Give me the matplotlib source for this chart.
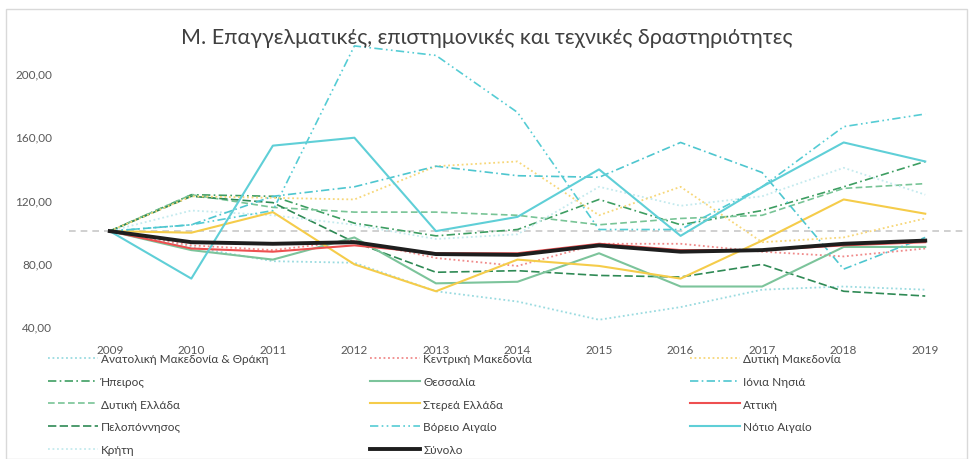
import matplotlib.pyplot as plt
from matplotlib.patches import Rectangle

plt.rcParams['font.family'] = ['Lato', 'DejaVu Sans']

years = ['2009', '2010', '2011', '2012', '2013', '2014', '2015', '2016', '2017', '2018', '2019']

# δείκτες ανά περιφέρεια (2009 = 100)
amth = [100, 90, 81, 80, 62, 55.5, 44, 52, 63, 65, 63]
kentriki_mak = [100, 91, 88, 94, 83, 78, 92, 92, 87, 84, 89]
dytiki_mak = [100, 122, 121, 120, 141, 144, 110, 128, 93, 96, 108]
ipeiros = [100, 123, 122, 105, 97, 101, 120, 104, 113, 128, 144]
thessalia = [100, 88, 82, 96, 67, 68, 86, 65, 65, 90, 90]
ionia = [100, 104, 122, 128, 141, 135, 134, 156, 137, 76, 96]
dytiki_ell = [100, 123, 115, 112, 112, 110, 104, 108, 110, 127, 130]
sterea = [100, 99, 112, 79, 62, 82, 78, 70, 94, 120, 111]
attiki = [100, 89, 87, 91, 86, 86, 92, 88, 88, 91, 93]
peloponnisos = [100, 122, 118, 93, 74, 75, 72, 71, 79, 62, 59]
voreio_aig = [100, 104, 113, 217, 211, 175, 101, 101, 128, 166, 174]
notio_aig = [100, 70, 154, 159, 100, 109, 139, 97, 128, 156, 144]
kriti = [100, 113, 110, 104, 95, 98, 128, 116, 122, 140, 123]
synolo = [100, 93, 92, 93, 85.5, 85, 91, 87, 88, 92, 94]

# σειρά για το υπόμνημα (στήλη-στήλη)
series = [
    ('Ανατολική Μακεδονία & Θράκη', amth, '#9ADBE0', (0, (1, 1.5)), 1.3),
    ('Ήπειρος', ipeiros, '#3E9E62', (0, (5, 2, 1, 2)), 1.2),
    ('Δυτική Ελλάδα', dytiki_ell, '#78C496', (0, (4, 2)), 1.2),
    ('Πελοπόννησος', peloponnisos, '#2F8A55', (0, (5, 2)), 1.2),
    ('Κρήτη', kriti, '#C4EAEE', (0, (1, 1.5)), 1.3),
    ('Κεντρική Μακεδονία', kentriki_mak, '#F08A8A', (0, (1, 1.5)), 1.3),
    ('Θεσσαλία', thessalia, '#7CC49B', '-', 1.5),
    ('Στερεά Ελλάδα', sterea, '#F5CC4A', '-', 1.5),
    ('Βόρειο Αιγαίο', voreio_aig, '#55CCD4', (0, (5, 2, 1, 2, 1, 2)), 1.2),
    ('Σύνολο', synolo, '#1E1E1E', '-', 2.8),
    ('Δυτική Μακεδονία', dytiki_mak, '#F7D779', (0, (1, 1.5)), 1.3),
    ('Ιόνια Νησιά', ionia, '#4EC6CF', (0, (5, 2, 1, 2)), 1.2),
    ('Αττική', attiki, '#EE4F50', '-', 1.5),
    ('Νότιο Αιγαίο', notio_aig, '#5FCFD7', '-', 1.5),
]

fig = plt.figure(figsize=(9.73, 4.6), dpi=100)
ax = fig.add_axes([69 / 973, 1 - 335 / 460, (966 - 69) / 973, (335 - 39) / 460])

ax.axhline(100, color='#C8C8C8', lw=1.2, ls=(0, (4, 3)), zorder=1)

lines = []
labels = []
for name, vals, col, ls, lw in series:
    z = 5 if name == 'Σύνολο' else 3
    l, = ax.plot(years, vals, color=col, ls=ls, lw=lw, zorder=z)
    lines.append(l)
    labels.append(name)

ax.set_ylim(35, 222)
ax.set_xlim(-0.5, 10.5)
ax.set_yticks([40, 80, 120, 160, 200])
ax.set_yticklabels(['40,00', '80,00', '120,00', '160,00', '200,00'])
for s in ax.spines.values():
    s.set_visible(False)
ax.tick_params(length=0, labelsize=8.5, colors='#595959', pad=7)
ax.tick_params(axis='y', pad=12)

fig.text(0.5, 1 - 38 / 460, 'Μ. Επαγγελματικές, επιστημονικές και τεχνικές δραστηριότητες',
         ha='center', va='center', fontsize=15.5, color='#404040')

# τρεις στήλες ίσου πλάτους, όπως στο Excel
col_x = [48, 370, 690]
groups = [(0, 5), (5, 10), (10, 14)]
for x0, (a, b) in zip(col_x, groups):
    fig.legend(lines[a:b], labels[a:b], loc='upper left',
               bbox_to_anchor=(x0 / 973, 1 - 354 / 460),
               frameon=False, fontsize=8.5, handlelength=4.2, handletextpad=0.3,
               labelspacing=1.0, labelcolor='#404040',
               borderaxespad=0, borderpad=0)

fig.patches.append(Rectangle((6 / 973, 0), 1 - 12 / 973, 1 - 10 / 460, transform=fig.transFigure,
                             fill=False, edgecolor='#D9D9D9', lw=1))

fig.savefig('out.png', dpi=100)
